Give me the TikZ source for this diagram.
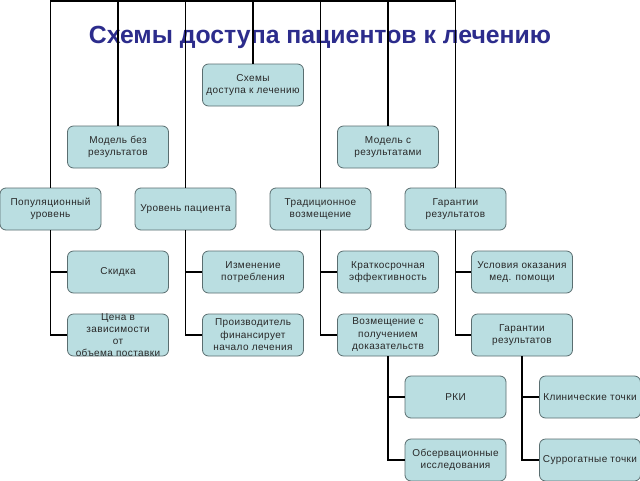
\documentclass[tikz,border=0pt]{standalone}
\usepackage{fontspec}
\setmainfont{Liberation Sans}
\newfontfamily\boxfont[LetterSpace=4]{Liberation Sans}
\definecolor{titleblue}{RGB}{44,44,140}
\definecolor{boxfill}{RGB}{186,222,225}
\definecolor{boxline}{RGB}{90,110,112}
\definecolor{boxtextc}{RGB}{40,40,40}
\begin{document}
\begin{tikzpicture}[x=1pt,y=-1pt,
  box/.style={draw=boxline, line width=0.8pt, fill=boxfill, rounded corners=6pt,
    minimum width=101pt, minimum height=42pt, inner sep=0pt, align=center,
    text=boxtextc, font=\boxfont\fontsize{10}{12.5}\selectfont},
  boxtext/.style={inner sep=0pt, align=center, text=boxtextc,
    font=\boxfont\fontsize{10}{11.8}\selectfont},
  title/.style={font=\fontsize{24.8}{28}\selectfont\bfseries, text=titleblue, inner sep=0pt},
  topline/.style={draw=black, line width=1.4pt},
  conn/.style={draw=black, line width=1.8pt}]
\useasboundingbox (0,0) rectangle (640,480);
\fill[white] (0,0) rectangle (640,480);
\node[title, anchor=base] (title) at (320,43) {Схемы доступа пациентов к лечению};
\coordinate (top) at (0,1);
% boxes
\node[box] (root) at (253,85) {Схемы\\доступа к лечению};
\node[box] (mb) at (118,147) {Модель без\\результатов};
\node[box] (mc) at (388,147) {Модель с\\результатами};
\node[box] (pop) at (50.5,209) {Популяционный\\уровень};
\node[box] (pat) at (185.5,209) {Уровень пациента};
\node[box] (trad) at (320.5,209) {Традиционное\\возмещение};
\node[box] (gar) at (455.5,209) {Гарантии\\результатов};
\node[box] (skid) at (118,272) {Скидка};
\node[box] (izm) at (253,272) {Изменение\\потребления};
\node[box] (krat) at (388,272) {Краткосрочная\\эффективность};
\node[box] (usl) at (522,272) {Условия оказания\\мед. помощи};
\node[box] (cena) at (118,335) {};
\node[boxtext] (cenat) at (cena.center) {Цена в\\зависимости\\от\\объема поставки};
\node[box] (proizv) at (253,335) {Производитель\\финансирует\\начало лечения};
\node[box] (vozm) at (388,335) {Возмещение с\\получением\\доказательств};
\node[box] (gar2) at (522,335) {Гарантии\\результатов};
\node[box] (rki) at (455.5,397) {РКИ};
\node[box] (klin) at (590,397) {Клинические точки};
\node[box] (obs) at (455.5,460) {Обсервационные\\исследования};
\node[box] (sur) at (590,460) {Суррогатные точки};
% top connectors
\draw[topline] (pop.north) -- (pop.north |- top) -- (gar.north |- top) -- (gar.north);
\foreach \n in {mb,pat,root,trad,mc}{\draw[topline] (\n.north) -- (\n.north |- top);}
% lower connectors
\draw[conn] (pop.south) |- (skid.west);
\draw[conn] (pop.south) |- (cena.west);
\draw[conn] (pat.south) |- (izm.west);
\draw[conn] (pat.south) |- (proizv.west);
\draw[conn] (trad.south) |- (krat.west);
\draw[conn] (trad.south) |- (vozm.west);
\draw[conn] (gar.south) |- (usl.west);
\draw[conn] (gar.south) |- (gar2.west);
\draw[conn] (vozm.south) |- (rki.west);
\draw[conn] (vozm.south) |- (obs.west);
\draw[conn] (gar2.south) |- (klin.west);
\draw[conn] (gar2.south) |- (sur.west);
\end{tikzpicture}
\end{document}
